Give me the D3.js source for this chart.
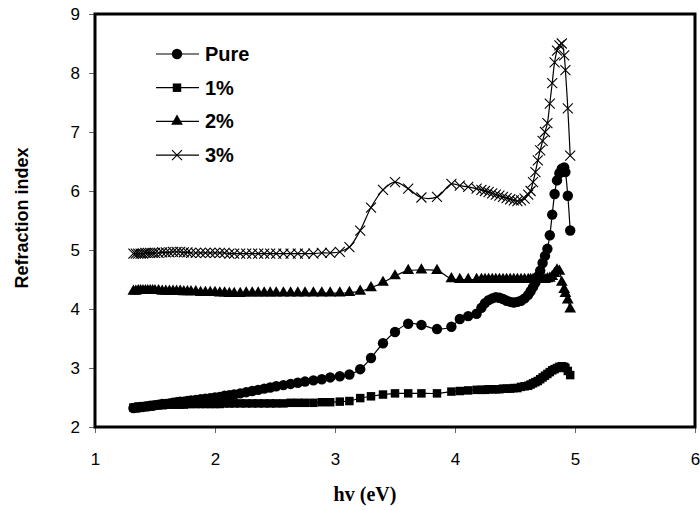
<!DOCTYPE html>
<html>
<head>
<meta charset="utf-8">
<script src="https://cdn.jsdelivr.net/npm/d3@7"></script>
<style>
  body { margin: 0; background: #fff; }
  svg { display: block; background: #fff; }
</style>
</head>
<body>
<svg id="chart"></svg>
<script>
let width = 700;
let height = 510;
let margin = {
  top: 14,
  right: 5,
  bottom: 83,
  left: 95
}

// photon energy (eV), shared by all four samples
const hv = [
  1.32, 1.34, 1.36, 1.38, 1.40, 1.42, 1.44, 1.46, 1.48, 1.50,
  1.53, 1.56, 1.59, 1.62, 1.65, 1.68, 1.71, 1.74, 1.77, 1.80,
  1.84, 1.88, 1.92, 1.96, 2.00, 2.04, 2.08, 2.12, 2.16, 2.21,
  2.26, 2.31, 2.36, 2.41, 2.46, 2.51, 2.57, 2.63, 2.69, 2.75,
  2.82, 2.89, 2.96, 3.04, 3.12, 3.21, 3.30, 3.40, 3.50, 3.61,
  3.72, 3.85, 3.97, 4.04, 4.11, 4.18, 4.22, 4.25, 4.28, 4.31,
  4.34, 4.37, 4.40, 4.43, 4.46, 4.49, 4.52, 4.55, 4.58, 4.61,
  4.63, 4.65, 4.67, 4.69, 4.71, 4.73, 4.75, 4.77, 4.79, 4.81,
  4.83, 4.85, 4.87, 4.89, 4.91, 4.92, 4.94, 4.96
];

const pure = [
  2.32, 2.33, 2.33, 2.34, 2.34, 2.35, 2.35, 2.36, 2.36, 2.37,
  2.38, 2.39, 2.39, 2.40, 2.41, 2.42, 2.43, 2.43, 2.44, 2.45,
  2.46, 2.47, 2.48, 2.49, 2.50, 2.51, 2.53, 2.54, 2.55, 2.57,
  2.59, 2.61, 2.63, 2.65, 2.67, 2.69, 2.71, 2.73, 2.75, 2.77,
  2.79, 2.81, 2.84, 2.86, 2.89, 2.98, 3.17, 3.42, 3.61, 3.75,
  3.73, 3.66, 3.70, 3.83, 3.88, 3.92, 4.02, 4.10, 4.15, 4.18,
  4.20, 4.19, 4.17, 4.14, 4.12, 4.11, 4.12, 4.14, 4.18, 4.24,
  4.30, 4.37, 4.45, 4.55, 4.65, 4.78, 4.90, 5.02, 5.25, 5.60,
  5.95, 6.18, 6.30, 6.38, 6.40, 6.32, 5.92, 5.33
];

const pct1 = [
  2.33, 2.33, 2.34, 2.34, 2.35, 2.35, 2.35, 2.36, 2.36, 2.37,
  2.37, 2.37, 2.38, 2.38, 2.38, 2.38, 2.38, 2.38, 2.39, 2.39,
  2.39, 2.39, 2.39, 2.39, 2.39, 2.39, 2.40, 2.40, 2.40, 2.40,
  2.40, 2.40, 2.40, 2.40, 2.40, 2.40, 2.40, 2.41, 2.41, 2.41,
  2.41, 2.42, 2.42, 2.43, 2.44, 2.49, 2.52, 2.55, 2.57, 2.57,
  2.57, 2.57, 2.60, 2.61, 2.62, 2.63, 2.63, 2.63, 2.64, 2.64,
  2.64, 2.64, 2.65, 2.65, 2.65, 2.66, 2.66, 2.68, 2.69, 2.70,
  2.72, 2.74, 2.76, 2.78, 2.81, 2.84, 2.87, 2.90, 2.93, 2.96,
  2.98, 3.00, 3.02, 3.03, 3.02, 3.00, 2.95, 2.88
];

const pct2 = [
  4.30, 4.30, 4.31, 4.31, 4.31, 4.31, 4.31, 4.31, 4.31, 4.31,
  4.31, 4.30, 4.30, 4.30, 4.30, 4.30, 4.30, 4.29, 4.29, 4.29,
  4.29, 4.28, 4.28, 4.28, 4.28, 4.27, 4.27, 4.26, 4.26, 4.26,
  4.27, 4.27, 4.27, 4.27, 4.27, 4.27, 4.27, 4.27, 4.27, 4.27,
  4.27, 4.27, 4.27, 4.27, 4.28, 4.30, 4.36, 4.45, 4.56, 4.65,
  4.66, 4.65, 4.51, 4.50, 4.50, 4.50, 4.50, 4.50, 4.50, 4.50,
  4.50, 4.50, 4.50, 4.50, 4.50, 4.50, 4.50, 4.50, 4.50, 4.50,
  4.50, 4.50, 4.50, 4.50, 4.50, 4.50, 4.50, 4.51, 4.52, 4.55,
  4.60, 4.66, 4.64, 4.45, 4.33, 4.26, 4.15, 4.00
];

const pct3 = [
  4.94, 4.94, 4.94, 4.94, 4.94, 4.95, 4.95, 4.95, 4.95, 4.95,
  4.95, 4.96, 4.96, 4.96, 4.97, 4.97, 4.97, 4.96, 4.96, 4.95,
  4.95, 4.95, 4.95, 4.95, 4.95, 4.95, 4.95, 4.94, 4.94, 4.94,
  4.94, 4.94, 4.94, 4.94, 4.94, 4.94, 4.94, 4.94, 4.94, 4.94,
  4.94, 4.95, 4.95, 4.97, 5.05, 5.33, 5.72, 6.02, 6.15, 6.04,
  5.89, 5.90, 6.12, 6.09, 6.07, 6.04, 6.02, 6.00, 5.98, 5.96,
  5.94, 5.92, 5.90, 5.88, 5.86, 5.84, 5.83, 5.84, 5.87, 5.94,
  6.00, 6.15, 6.32, 6.52, 6.69, 6.85, 7.00, 7.15, 7.48, 7.83,
  8.18, 8.38, 8.47, 8.50, 8.30, 8.05, 7.40, 6.60
];

const seriesNames = ['Pure', '1%', '2%', '3%'];
const seriesValues = [pure, pct1, pct2, pct3];
const markerTypes = ['circle', 'square', 'triangle', 'cross'];

const xTicks = [1, 2, 3, 4, 5, 6];
const yTicks = [2, 3, 4, 5, 6, 7, 8, 9];

let svg = d3.select('#chart')
  .attr('width', width)
  .attr('height', height);

let x = d3.scaleLinear()
  .domain([1, 6])
  .range([margin.left, width - margin.right])

let y = d3.scaleLinear()
  .domain([2, 9])
  .range([height - margin.bottom, margin.top])

// marker path for each kind
function markerPath(kind) {
  if (kind === 'circle') return d3.symbol().type(d3.symbolCircle).size(85)();
  if (kind === 'square') return d3.symbol().type(d3.symbolSquare).size(72)();
  if (kind === 'triangle') return d3.symbol().type(d3.symbolTriangle).size(60)();
  return 'M-5,-5L5,5M-5,5L5,-5';
}

function styleMarker(sel, kind) {
  if (kind === 'cross') {
    sel.attr('fill', 'none').attr('stroke', '#000').attr('stroke-width', 1.1);
  } else {
    sel.attr('fill', '#000').attr('stroke', 'none');
  }
}

// axes
let xAxis = g => g
  .attr('transform', `translate(0,${height - margin.bottom})`)
  .call(d3.axisBottom(x).tickValues(xTicks).tickFormat(d3.format('d'))
    .tickSize(6).tickPadding(20).tickSizeOuter(0))
  .call(g => g.select('.domain').remove())

let yAxis = g => g
  .attr('transform', `translate(${margin.left},0)`)
  .call(d3.axisLeft(y).tickValues(yTicks).tickFormat(d3.format('d'))
    .tickSize(6).tickPadding(9).tickSizeOuter(0))
  .call(g => g.select('.domain').remove())

svg.append('g').call(xAxis);
svg.append('g').call(yAxis);

svg.selectAll('.tick line').attr('stroke', '#666').attr('stroke-width', 1);
svg.selectAll('.tick text')
  .attr('fill', '#000')
  .attr('font-size', 17)
  .attr('font-family', '"Liberation Sans", Arial, sans-serif');

// series
let line = d3.line()
  .x(d => x(d[0]))
  .y(d => y(d[1]))
  .curve(d3.curveCatmullRom.alpha(0.5));

seriesValues.forEach((vals, i) => {
  let pts = hv.map((h, j) => [h, vals[j]]);
  let g = svg.append('g').attr('class', 'series');
  g.append('path')
    .datum(pts)
    .attr('d', line)
    .attr('fill', 'none')
    .attr('stroke', '#000')
    .attr('stroke-width', 1.2);
  g.selectAll('path.mk')
    .data(pts)
    .enter()
    .append('path')
      .attr('class', 'mk')
      .attr('d', markerPath(markerTypes[i]))
      .attr('transform', d => `translate(${x(d[0])},${y(d[1])})`)
      .call(styleMarker, markerTypes[i]);
});

// plot frame
svg.append('rect')
  .attr('x', margin.left)
  .attr('y', margin.top)
  .attr('width', width - margin.left - margin.right)
  .attr('height', height - margin.top - margin.bottom)
  .attr('fill', 'none')
  .attr('stroke', '#000')
  .attr('stroke-width', 3);

// legend
let legend = svg.append('g').attr('transform', 'translate(156,54)');
seriesNames.forEach((name, i) => {
  let row = legend.append('g').attr('transform', `translate(0,${i * 33.7})`);
  row.append('line')
    .attr('x1', 0).attr('x2', 43)
    .attr('y1', 0).attr('y2', 0)
    .attr('stroke', '#000')
    .attr('stroke-width', 1.2);
  row.append('path')
    .attr('d', markerPath(markerTypes[i]))
    .attr('transform', 'translate(21,0)')
    .call(styleMarker, markerTypes[i]);
  row.append('text')
    .attr('x', 49)
    .attr('y', 7)
    .attr('font-family', '"Liberation Sans", Arial, sans-serif')
    .attr('font-weight', 'bold')
    .attr('font-size', 20)
    .text(name);
});

// axis titles
svg.append('text')
  .attr('text-anchor', 'middle')
  .attr('x', 365)
  .attr('y', 501)
  .attr('font-family', '"Liberation Serif", "Times New Roman", serif')
  .attr('font-weight', 'bold')
  .attr('font-size', 20)
  .text('hv (eV)');

svg.append('text')
  .attr('text-anchor', 'middle')
  .attr('transform', 'translate(28,218) rotate(-90)')
  .attr('font-family', '"Liberation Sans", Arial, sans-serif')
  .attr('font-weight', 'bold')
  .attr('font-size', 18)
  .text('Refraction index');
</script>
</body>
</html>
